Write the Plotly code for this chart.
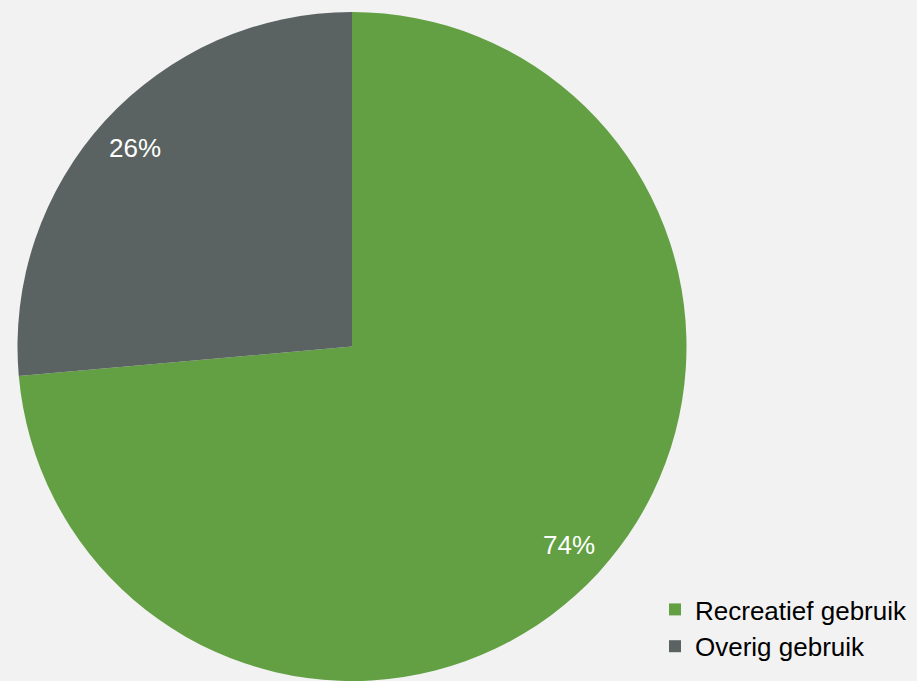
import math
import plotly.graph_objects as go

labels = ["Recreatief gebruik", "Overig gebruik"]
values = [73.6, 26.4]
colors = ["#63A043", "#5A6361"]

W, H = 917, 681
cx_px, cy_px, r_px = 352, 334.5, 334.5  # cy measured from bottom

fig = go.Figure()
fig.add_trace(go.Pie(
    labels=labels, values=values, sort=False, direction="clockwise", rotation=0,
    marker=dict(colors=colors, line=dict(width=0)),
    textinfo="none", hoverinfo="label+percent",
    domain=dict(x=[(cx_px - r_px) / W, (cx_px + r_px) / W],
                y=[max(0, (cy_px - r_px) / H), (cy_px + r_px) / H]),
))

total = sum(values)
cum = 0
for v in values:
    th = 2 * math.pi * (cum + v / 2) / total
    cum += v
    rr = 0.88 * r_px
    x = (cx_px + rr * math.sin(th)) / W
    y = (cy_px + rr * math.cos(th)) / H
    fig.add_annotation(x=x, y=y, xref="paper", yref="paper",
                       xanchor="center", yanchor="middle",
                       text=f"{round(100 * v / total)}%", showarrow=False,
                       font=dict(family="Liberation Sans, Arial", size=26, color="white"))

fig.update_layout(
    width=W, height=H,
    margin=dict(l=0, r=0, t=0, b=0),
    paper_bgcolor="#f2f2f2", plot_bgcolor="#f2f2f2",
    font=dict(family="Liberation Sans, Arial", color="#000000"),
    legend=dict(x=655 / W, y=11 / H, xanchor="left", yanchor="bottom",
                font=dict(size=26), bgcolor="rgba(0,0,0,0)", itemclick=False),
)
fig.write_html("out.html", config={"displayModeBar": False},
               post_script="document.body.style.margin='0';document.body.style.background='#f2f2f2';")
